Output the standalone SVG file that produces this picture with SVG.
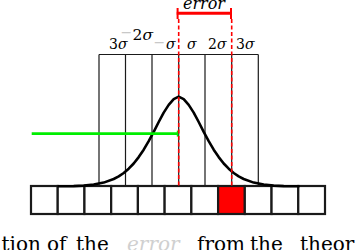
<svg xmlns="http://www.w3.org/2000/svg" width="356" height="250" viewBox="0 0 356 250">
<style>
.col{stroke:#1a1a1a;stroke-width:1.2;fill:none}
.cell{fill:#fff;stroke:#1a1a1a;stroke-width:2.2}
.minus{fill:#c8c8c8}
.rdash{stroke:#ff0000;stroke-width:1.6;stroke-dasharray:4 2.5;fill:none}
</style>
<rect width="356" height="250" fill="#fff"/>
<g id="sigma-grid">
<path class="col" d="M99,54.5H258.3M99,54.5V186M125.5,54.5V186M152,54.5V186M178.7,54.5V186M205,54.5V186M231.7,54.5V186M258.3,54.5V186"/>
</g>
<g id="cells">
<rect class="cell" x="31" y="186" width="26.73" height="28"/>
<rect class="cell" x="57.73" y="186" width="26.73" height="28"/>
<rect class="cell" x="84.45" y="186" width="26.73" height="28"/>
<rect class="cell" x="111.18" y="186" width="26.73" height="28"/>
<rect class="cell" x="137.91" y="186" width="26.73" height="28"/>
<rect class="cell" x="164.64" y="186" width="26.73" height="28"/>
<rect class="cell" x="191.36" y="186" width="26.73" height="28"/>
<rect class="cell" x="218.09" y="186" width="26.73" height="28" style="fill:#ff0000"/>
<rect class="cell" x="244.82" y="186" width="26.73" height="28"/>
<rect class="cell" x="271.55" y="186" width="26.73" height="28"/>
<rect class="cell" x="298.27" y="186" width="26.73" height="28"/>
</g>
<g id="gaussian">
<polyline fill="none" stroke="#000" stroke-width="2.6" stroke-linejoin="round" stroke-linecap="round" points="58.7,186.3 73.7,186.1 83.7,185.6 93.7,184.6 103.7,182.6 113.7,179.0 118.7,176.4 123.7,173.0 128.7,168.7 133.7,163.5 138.7,157.1 143.7,149.7 148.7,141.2 153.7,131.9 158.7,122.0 163.7,112.6 168.7,104.9 173.7,99.2 178.7,96.7 183.7,99.2 188.7,104.9 193.7,112.6 198.7,122.0 203.7,131.9 208.7,141.2 213.7,149.7 218.7,157.1 223.7,163.5 228.7,168.7 233.7,173.0 238.7,176.4 243.7,179.0 253.7,182.6 263.7,184.6 273.7,185.6 283.7,186.1 298.7,186.3"/>
</g>
<g id="connectors">
<line x1="31.7" y1="133.6" x2="178" y2="133.6" stroke="#00ee00" stroke-width="2.6"/>
<line x1="177.6" y1="130.6" x2="177.6" y2="136.6" stroke="#00ee00" stroke-width="1.6"/>
<line class="rdash" x1="178.7" y1="19" x2="178.7" y2="186"/>
<line class="rdash" x1="231.7" y1="19" x2="231.7" y2="186"/>
<line x1="176.7" y1="13.3" x2="231.7" y2="13.3" stroke="#ff0000" stroke-width="3"/>
<line x1="177.6" y1="8" x2="177.6" y2="19" stroke="#ff0000" stroke-width="2"/>
<line x1="231" y1="8" x2="231" y2="19" stroke="#ff0000" stroke-width="2"/>
</g>
<g id="labels" font-family="DejaVu Serif, serif" font-size="14" fill="#000">
<text x="204" y="8.5" text-anchor="middle" font-style="italic" font-size="16">error</text>
<text x="109" y="48.5">3<tspan font-style="italic">σ</tspan></text>
<text class="minus" x="120.5" y="37">−</text>
<text x="132.5" y="40" font-size="15.5">2<tspan font-style="italic">σ</tspan></text>
<text class="minus" x="153.5" y="47">−</text>
<text x="166" y="48.5" font-style="italic">σ</text>
<text x="187" y="48.5" font-style="italic">σ</text>
<text x="208" y="48.5">2<tspan font-style="italic">σ</tspan></text>
<text x="236" y="48.5">3<tspan font-style="italic">σ</tspan></text>
</g>
<g id="caption" font-family="DejaVu Serif, serif" font-size="20" fill="#000">
<text y="251"><tspan x="1.5">tion</tspan><tspan x="47">of</tspan><tspan x="76">the</tspan><tspan x="127" font-style="italic" fill="#d0d0d0">error</tspan><tspan x="197">from</tspan><tspan x="250">the</tspan><tspan x="300">theor</tspan></text>
</g>
</svg>
